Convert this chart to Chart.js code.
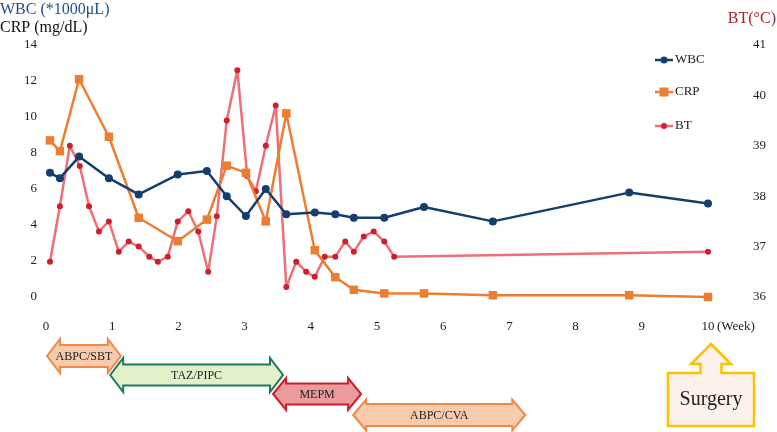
<!DOCTYPE html>
<html>
<head>
<meta charset="utf-8">
<script src="https://cdn.jsdelivr.net/npm/chart.js@4"></script>
<style>
  html, body { margin: 0; padding: 0; background: #fff; }
  #wrap { position: relative; width: 777px; height: 432px; }
</style>
</head>
<body>
<div id="wrap"><canvas id="chart" width="777" height="432"></canvas></div>
<script>
// Lab values (weeks from admission)
const labWeeks = [0.06, 0.21, 0.5, 0.95, 1.4, 1.99, 2.43, 2.73, 3.02, 3.32, 3.63, 4.06, 4.37, 4.65, 5.11, 5.71, 6.75, 8.81, 10.0];
const wbc = [6.9, 6.6, 7.8, 6.6, 5.7, 6.8, 7.0, 5.6, 4.5, 6.0, 4.6, 4.7, 4.6, 4.4, 4.4, 5.0, 4.2, 5.8, 5.2];
const crp = [8.7, 8.1, 12.1, 8.9, 4.4, 3.1, 4.3, 7.3, 6.9, 4.2, 10.2, 2.6, 1.1, 0.4, 0.2, 0.2, 0.1, 0.1, 0.0];

// Body temperature
const btWeeks = [0.06, 0.21, 0.36, 0.51, 0.65, 0.8, 0.95, 1.1, 1.25, 1.4, 1.56, 1.69, 1.84, 1.99, 2.15, 2.3, 2.45, 2.58, 2.73, 2.89,
                 3.04, 3.17, 3.32, 3.47, 3.63, 3.78, 3.93, 4.06, 4.21, 4.37, 4.52, 4.65, 4.8, 4.95, 5.11, 5.26, 10.0];
const bt = [36.7, 37.8, 39.0, 38.6, 37.8, 37.3, 37.5, 36.9, 37.1, 37.0, 36.8, 36.7, 36.8, 37.5, 37.7, 37.3, 36.5, 37.6, 39.5, 40.5,
            38.4, 38.1, 39.0, 39.8, 36.2, 36.7, 36.5, 36.4, 36.8, 36.8, 37.1, 36.9, 37.2, 37.3, 37.1, 36.8, 36.9];

// Antibiotic courses (weeks)
const abxNames = ['ABPC/SBT', 'TAZ/PIPC', 'MEPM', 'ABPC/CVA'];
const abxStart = [0.015, 0.97, 3.43, 4.64];
const abxEnd = [1.13, 3.58, 4.76, 7.24];
const surgeryWeek = 10;

const FONT = '"Liberation Serif", "DejaVu Serif", serif';

function pts(xs, ys) {
    return xs.map((x, i) => ({ x: x, y: ys[i] }));
}

// Legend, axis titles, treatment arrows
const extrasPlugin = {
    id: 'extras',
    afterDraw(chart) {
        const ctx = chart.ctx;
        const xs = chart.scales.x;
        ctx.save();

        // axis titles
        ctx.textBaseline = 'middle';
        ctx.textAlign = 'left';
        ctx.font = '16px ' + FONT;
        ctx.fillStyle = '#1f4e8c';
        ctx.fillText('WBC (*1000μL)', 0, 10);
        ctx.fillStyle = '#111';
        ctx.fillText('CRP (mg/dL)', 0, 28);
        ctx.fillStyle = '#a8232b';
        ctx.textAlign = 'right';
        ctx.fillText('BT(°C)', 776, 19);

        ctx.textAlign = 'left';
        ctx.font = '13px ' + FONT;
        ctx.fillStyle = '#222';
        ctx.fillText('(Week)', 717, 327);

        // legend
        const legend = [
            { label: 'WBC', color: '#153e70', mark: '#153e70', shape: 'circle', r: 3.5, y: 60 },
            { label: 'CRP', color: '#ee7d31', mark: '#ee7d31', shape: 'square', r: 4.5, y: 92 },
            { label: 'BT', color: '#ef6f76', mark: '#cf1f2a', shape: 'circle', r: 3, y: 126 }
        ];
        legend.forEach(l => {
            ctx.strokeStyle = l.color;
            ctx.lineWidth = 2.5;
            ctx.beginPath();
            ctx.moveTo(655, l.y);
            ctx.lineTo(673, l.y);
            ctx.stroke();
            ctx.fillStyle = l.mark;
            if (l.shape === 'square') {
                ctx.fillRect(664 - l.r, l.y - l.r, l.r * 2, l.r * 2);
            } else {
                ctx.beginPath();
                ctx.arc(664, l.y, l.r, 0, Math.PI * 2);
                ctx.fill();
            }
            ctx.fillStyle = '#222';
            ctx.font = '13px ' + FONT;
            ctx.fillText(l.label, 675, l.y);
        });

        // double-headed arrows for antibiotic courses
        const rowY = [356, 375, 394, 415];
        const headH = [17, 17, 16, 15.5];
        const bodyH = [11, 10.5, 10.5, 11];
        const fills = ['#f8cbad', '#e3f1c9', '#eb9a9d', '#f8cbad'];
        const strokes = ['#f08a4b', '#1d7a5c', '#c9202b', '#f08a4b'];
        abxNames.forEach((name, i) => {
            const x1 = xs.getPixelForValue(abxStart[i]);
            const x2 = xs.getPixelForValue(abxEnd[i]);
            const cy = rowY[i], hh = headH[i], bh = bodyH[i], hl = 13;
            ctx.beginPath();
            ctx.moveTo(x1, cy);
            ctx.lineTo(x1 + hl, cy - hh);
            ctx.lineTo(x1 + hl, cy - bh);
            ctx.lineTo(x2 - hl, cy - bh);
            ctx.lineTo(x2 - hl, cy - hh);
            ctx.lineTo(x2, cy);
            ctx.lineTo(x2 - hl, cy + hh);
            ctx.lineTo(x2 - hl, cy + bh);
            ctx.lineTo(x1 + hl, cy + bh);
            ctx.lineTo(x1 + hl, cy + hh);
            ctx.closePath();
            ctx.fillStyle = fills[i];
            ctx.fill();
            ctx.lineWidth = 2;
            ctx.strokeStyle = strokes[i];
            ctx.stroke();
            ctx.fillStyle = '#222';
            ctx.font = '12px ' + FONT;
            ctx.textAlign = 'center';
            ctx.fillText(name, (x1 + x2) / 2, cy + 1);
        });

        // surgery marker
        const sx = xs.getPixelForValue(surgeryWeek) + 3;
        ctx.beginPath();
        ctx.moveTo(sx, 344);
        ctx.lineTo(sx + 20, 364);
        ctx.lineTo(sx + 10.5, 364);
        ctx.lineTo(sx + 10.5, 373);
        ctx.lineTo(sx + 43, 373);
        ctx.lineTo(sx + 43, 426);
        ctx.lineTo(sx - 43, 426);
        ctx.lineTo(sx - 43, 373);
        ctx.lineTo(sx - 10.5, 373);
        ctx.lineTo(sx - 10.5, 364);
        ctx.lineTo(sx - 20, 364);
        ctx.closePath();
        ctx.fillStyle = '#fdf1ec';
        ctx.fill();
        ctx.lineWidth = 2.5;
        ctx.strokeStyle = '#ffc000';
        ctx.stroke();
        ctx.fillStyle = '#222';
        ctx.font = '20px ' + FONT;
        ctx.textAlign = 'center';
        ctx.fillText('Surgery', sx, 400);

        ctx.restore();
    }
};

const ctx = document.getElementById('chart').getContext('2d');
new Chart(ctx, {
    type: 'line',
    data: {
        datasets: [
            {
                label: 'WBC',
                data: pts(labWeeks, wbc),
                yAxisID: 'y',
                borderColor: '#153e70',
                backgroundColor: '#153e70',
                borderWidth: 2.5,
                borderJoinStyle: 'round',
                pointStyle: 'circle',
                pointRadius: 4,
                pointBorderWidth: 0,
                tension: 0,
                clip: false,
                order: 1
            },
            {
                label: 'CRP',
                data: pts(labWeeks, crp),
                yAxisID: 'y',
                borderColor: '#ee7d31',
                backgroundColor: '#ee7d31',
                borderWidth: 2.5,
                borderJoinStyle: 'round',
                pointStyle: 'rect',
                pointRadius: 6,
                pointBorderWidth: 0,
                tension: 0,
                clip: false,
                order: 2
            },
            {
                label: 'BT',
                data: pts(btWeeks, bt),
                yAxisID: 'y2',
                borderColor: '#ef6f76',
                backgroundColor: '#cf1f2a',
                pointBorderColor: '#cf1f2a',
                borderWidth: 2.5,
                borderJoinStyle: 'round',
                pointStyle: 'circle',
                pointRadius: 3,
                pointBorderWidth: 0,
                tension: 0,
                clip: false,
                order: 3
            }
        ]
    },
    options: {
        responsive: false,
        animation: false,
        layout: { padding: { top: 45, left: 0, right: 0, bottom: 0 } },
        plugins: {
            legend: { display: false },
            tooltip: { enabled: false }
        },
        scales: {
            x: {
                type: 'linear',
                min: 0,
                max: 10,
                grid: { display: false, drawTicks: false },
                border: { display: false },
                ticks: { stepSize: 1, padding: 22, color: '#222', font: { family: FONT, size: 13 } },
                afterFit(scale) { scale.height = 135; }
            },
            y: {
                position: 'left',
                min: 0,
                max: 14,
                grid: { display: false, drawTicks: false },
                border: { display: false },
                ticks: { stepSize: 2, padding: 9, color: '#222', font: { family: FONT, size: 13 } },
                afterFit(scale) { scale.width = 46; scale.paddingTop = 0; scale.paddingBottom = 0; }
            },
            y2: {
                position: 'right',
                min: 36,
                max: 41,
                grid: { display: false, drawTicks: false },
                border: { display: false },
                ticks: { stepSize: 1, padding: 45, color: '#222', font: { family: FONT, size: 13 } },
                // the big tick padding would otherwise push the plot area down
                afterFit(scale) { scale.width = 69; scale.paddingTop = 0; scale.paddingBottom = 0; }
            }
        }
    },
    plugins: [extrasPlugin]
});
</script>
</body>
</html>
